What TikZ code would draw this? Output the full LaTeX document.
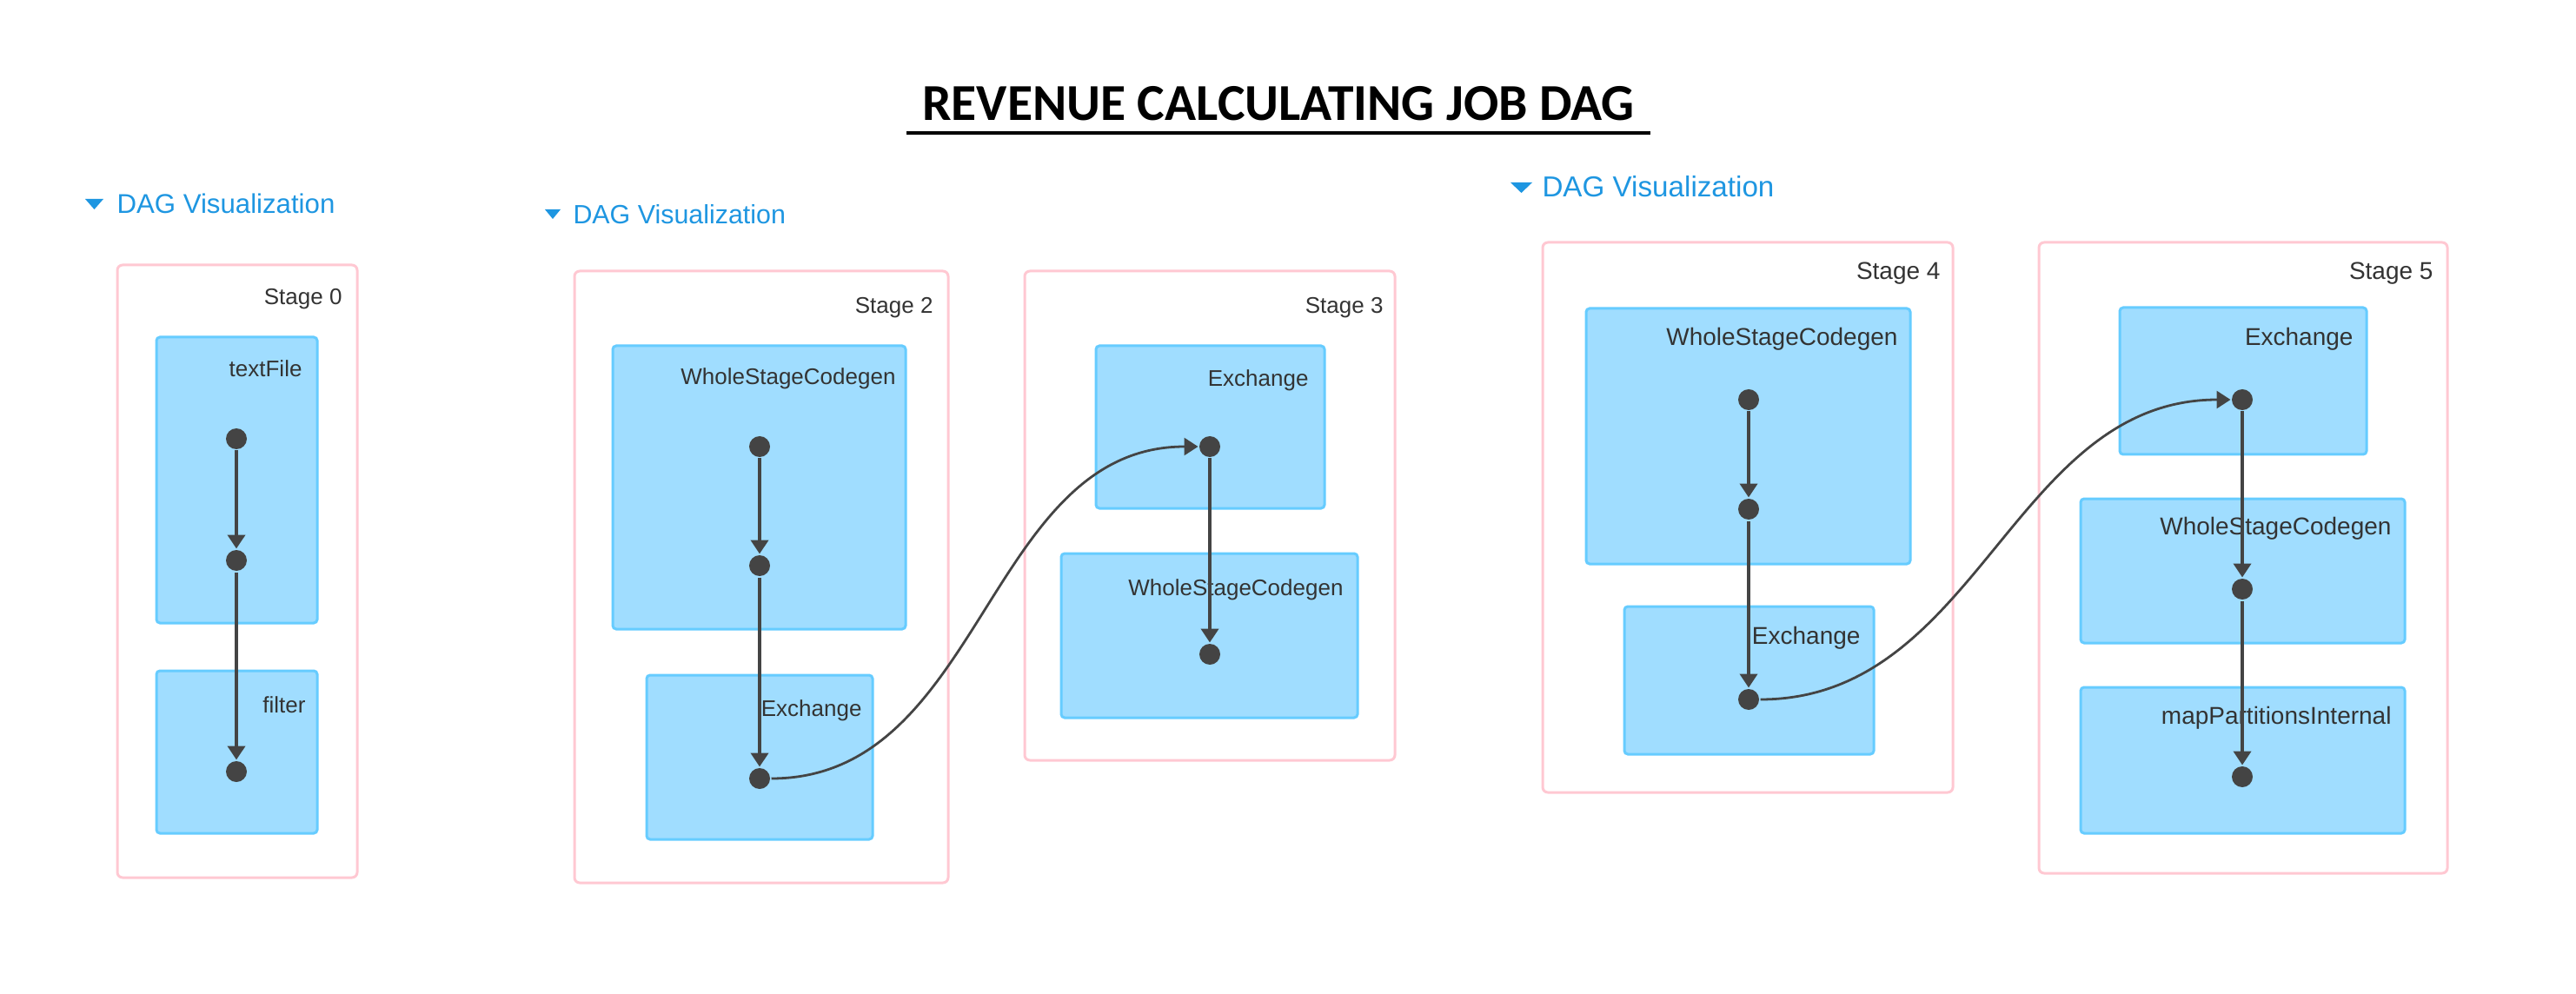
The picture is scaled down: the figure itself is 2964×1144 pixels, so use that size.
\documentclass[tikz,border=0pt]{standalone}
\usepackage{fontspec}
\setmainfont{Liberation Sans}
\newfontfamily\titlefont{Carlito}
\usepackage{tikz}
\usetikzlibrary{arrows.meta}
\tikzset{every picture/.style={line width=0.75pt}}
\definecolor{linkblue}{RGB}{30,150,225}
\definecolor{stagepink}{RGB}{255,200,210}
\definecolor{opfill}{RGB}{160,221,255}
\definecolor{opblue}{RGB}{102,204,255}
\definecolor{edgegray}{RGB}{68,68,68}
\definecolor{labelgray}{RGB}{51,51,51}
\tikzset{
  stagebox/.style={draw=stagepink, fill=white, line width=0.75pt, rounded corners=1.5pt},
  opbox/.style={draw=opblue, fill=opfill, line width=0.75pt, rounded corners=1pt},
  oplabel/.style={font=\fontsize{#1}{#1}\selectfont, text=labelgray, inner sep=0pt, anchor=mid east},
  vizlabel/.style={font=\fontsize{#1}{#1}\selectfont, text=linkblue, inner sep=0pt, anchor=mid west},
  opdot/.style={circle, fill=edgegray, inner sep=0pt, minimum size=6pt},
  flow/.style={draw=edgegray, line width=1.2pt, -{Triangle[width=5pt,length=4pt]}},
  shuffle/.style={draw=edgegray, line width=0.7pt, -{Triangle[width=5pt,length=4pt]}}
}

\begin{document}
\begin{tikzpicture}[x=0.25pt,y=0.25pt,yscale=-1,xscale=1]
\useasboundingbox (0,0) rectangle (2964,1144);
% title
\node [font={\titlefont\fontsize{14.9}{16}\selectfont\bfseries}, anchor=base, inner sep=0pt] (title) at (1471,139) {REVENUE CALCULATING JOB DAG};
\coordinate (ul1) at (1043,153);
\coordinate (ul2) at (1899,153);
\draw [line width=1pt] (ul1) -- (ul2);
% headers
\fill [linkblue] (98,229) -- (119,229) -- (108.5,241) -- cycle;
\node [vizlabel=7.8] (viz1) at (133,235) {DAG Visualization};
\fill [linkblue] (627,241) -- (645,241) -- (636,252) -- cycle;
\node [vizlabel=7.6] (viz2) at (658,247) {DAG Visualization};
\fill [linkblue] (1738,210) -- (1763,210) -- (1750.5,222) -- cycle;
\node [vizlabel=8.3] (viz3) at (1773,216) {DAG Visualization};
% stage 0
\draw [stagebox] (135,305) rectangle (411,1010);
\node [oplabel=6.5] (st0) at (395,340) {Stage 0};
\draw [opbox] (180,388) rectangle (365,717);
\node [oplabel=6.5] (textfile) at (349,423) {textFile};
\draw [opbox] (180,772) rectangle (365,959);
\node [oplabel=6.5] (filter) at (353,810) {filter};
\node [opdot] (s0n1) at (272,505) {};
\node [opdot] (s0n2) at (272,645) {};
\node [opdot] (s0n3) at (272,888) {};
\draw [flow] (s0n1) -- (s0n2);
\draw [flow] (s0n2) -- (s0n3);
% stage 2
\draw [stagebox] (661,312) rectangle (1091,1016);
\node [oplabel=6.5] (st2) at (1075,350) {Stage 2};
\draw [opbox] (705,398) rectangle (1042,724);
\node [oplabel=6.5] (wsc2) at (1032,432) {WholeStageCodegen};
\draw [opbox] (744,777) rectangle (1004,966);
\node [oplabel=6.5] (exch2) at (993,814) {Exchange};
\node [opdot] (s2n1) at (874,514) {};
\node [opdot] (s2n2) at (874,651) {};
\node [opdot] (s2n3) at (874,896) {};
\draw [flow] (s2n1) -- (s2n2);
\draw [flow] (s2n2) -- (s2n3);
% stage 3
\draw [stagebox] (1179,312) rectangle (1605,875);
\node [oplabel=6.5] (st3) at (1593,350) {Stage 3};
\draw [opbox] (1261,398) rectangle (1524,585);
\node [oplabel=6.5] (exch3) at (1507,434) {Exchange};
\draw [opbox] (1221,637) rectangle (1562,826);
\node [oplabel=6.5] (wsc3) at (1547,675) {WholeStageCodegen};
\node [opdot] (s3n1) at (1392,514) {};
\node [opdot] (s3n2) at (1392,753) {};
\draw [flow] (s3n1) -- (s3n2);
\draw [shuffle] (s2n3) to[out=0,in=180] (s3n1);
% stage 4
\draw [stagebox] (1775,279) rectangle (2247,912);
\node [oplabel=7] (st4) at (2234,311) {Stage 4};
\draw [opbox] (1825,355) rectangle (2198,649);
\node [oplabel=7] (wsc4) at (2185,387) {WholeStageCodegen};
\draw [opbox] (1869,698) rectangle (2156,868);
\node [oplabel=7] (exch4) at (2142,731) {Exchange};
\node [opdot] (s4n1) at (2012,460) {};
\node [opdot] (s4n2) at (2012,586) {};
\node [opdot] (s4n3) at (2012,805) {};
\draw [flow] (s4n1) -- (s4n2);
\draw [flow] (s4n2) -- (s4n3);
% stage 5
\draw [stagebox] (2346,279) rectangle (2816,1005);
\node [oplabel=7] (st5) at (2801,311) {Stage 5};
\draw [opbox] (2439,354) rectangle (2723,523);
\node [oplabel=7] (exch5) at (2709,387) {Exchange};
\draw [opbox] (2394,574) rectangle (2767,740);
\node [oplabel=7] (wsc5) at (2753,605) {WholeStageCodegen};
\draw [opbox] (2394,791) rectangle (2767,959);
\node [oplabel=7] (mpi5) at (2753,823) {mapPartitionsInternal};
\node [opdot] (s5n1) at (2580,460) {};
\node [opdot] (s5n2) at (2580,678) {};
\node [opdot] (s5n3) at (2580,894) {};
\draw [flow] (s5n1) -- (s5n2);
\draw [flow] (s5n2) -- (s5n3);
\draw [shuffle] (s4n3) to[out=0,in=180] (s5n1);
\end{tikzpicture}
\end{document}
